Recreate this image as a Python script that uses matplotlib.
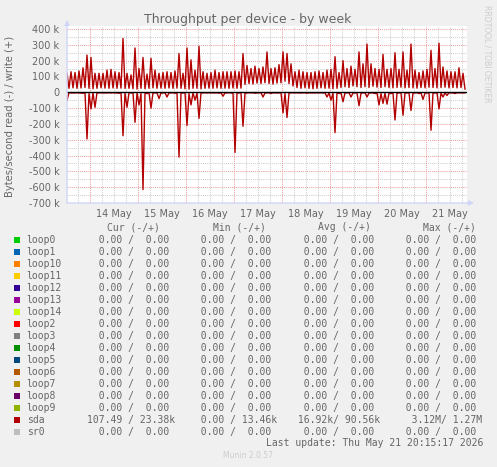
import matplotlib
matplotlib.use('Agg')
import matplotlib.pyplot as plt
import numpy as np
from matplotlib.patches import Rectangle

# ---------------- data ----------------
# write (+) peaks every 2 hours, in kB/s, starting at left edge (May 13 12:30)
write_peaks = [120, 130, 125, 135, 155, 235, 220, 120, 120, 120,
               140, 145, 130, 125, 340, 120, 110, 280, 150, 220,
               115, 215, 140, 120, 125, 130, 125, 135, 245, 120,
               280, 205, 140, 290, 130, 120, 125, 140, 125, 130,
               130, 130, 135, 130, 245, 170, 150, 165, 150, 160,
               255, 150, 155, 175, 255, 245, 180, 130, 140, 130,
               125, 125, 130, 135, 125, 140, 145, 225, 125, 200,
               150, 165, 145, 255, 180, 305, 180, 150, 145, 240,
               145, 150, 250, 145, 255, 140, 305, 140, 125, 135,
               145, 265, 150, 310, 160, 135, 130, 130, 155, 120]
write_troughs = [25, 28, 25, 27, 30, 25, 22, 25, 28, 26,
                 25, 27, 25, 26, 24, 25, 22, 20, 25, 22,
                 25, 28, 25, 26, 25, 27, 25, 26, 25, 22,
                 20, 25, 25, 22, 25, 26, 25, 27, 25, 26,
                 25, 27, 25, 26, 50, 55, 52, 58, 55, 60,
                 55, 52, 58, 60, 70, 55, 40, 30, 25, 28,
                 25, 22, 25, 28, 25, 26, 22, 25, 30, 35,
                 30, 40, 35, 30, 35, 30, 38, 32, 30, 35,
                 30, 28, 30, 32, 28, 30, 28, 26, 30, 28,
                 32, 30, 28, 30, 32, 28, 30, 28, 30, 20]
# read (-) at the same 2-hourly peak times, in kB/s
read_peaks = [-50, -4, -4, -4, -6, -295, -105, -95, -4, -4,
              -4, -4, -4, -6, -275, -95, -4, -190, -80, -615,
              -8, -100, -4, -40, -4, -30, -4, -6, -410, -4,
              -210, -80, -50, -165, -4, -4, -4, -4, -6, -25,
              -4, -4, -380, -4, -215, -4, -4, -6, -4, -30,
              -4, -8, -4, -4, -130, -160, -4, -4, -4, -4,
              -6, -4, -4, -4, -4, -30, -50, -255, -8, -60,
              -4, -30, -4, -85, -4, -30, -4, -8, -80, -70,
              -75, -8, -175, -4, -145, -4, -115, -4, -8, -45,
              -4, -240, -4, -105, -30, -20, -4, -8, -4, -4]
# read (-) in between, in kB/s
read_between = [-3, -4, -3, -5, -3, -8, -4, -3, -3, -4,
                -3, -3, -4, -3, -6, -3, -5, -4, -8, -5,
                -3, -4, -3, -5, -3, -4, -3, -3, -6, -3,
                -8, -4, -5, -4, -3, -3, -4, -3, -3, -4,
                -3, -5, -4, -3, -6, -3, -3, -4, -3, -4,
                -3, -3, -4, -3, -8, -5, -3, -3, -4, -3,
                -3, -4, -3, -3, -4, -5, -6, -4, -5, -4,
                -3, -5, -4, -6, -3, -5, -4, -6, -8, -6,
                -5, -4, -6, -3, -5, -4, -6, -3, -4, -5,
                -4, -6, -4, -5, -4, -3, -4, -3, -3, -3]

day_labels = ['14 May', '15 May', '16 May', '17 May', '18 May', '19 May', '20 May', '21 May']
yticks_k = [400, 300, 200, 100, 0, -100, -200, -300, -400, -500, -600, -700]

legend_names = ['loop0', 'loop1', 'loop10', 'loop11', 'loop12', 'loop13', 'loop14',
                'loop2', 'loop3', 'loop4', 'loop5', 'loop6', 'loop7', 'loop8',
                'loop9', 'sda', 'sr0']
legend_colors = ['#00CC00', '#0066B3', '#FF8000', '#FFCC00', '#330099', '#990099',
                 '#CCFF00', '#FF0000', '#808080', '#008F00', '#00487D', '#B35A00',
                 '#B38F00', '#6B006B', '#8FB300', '#B30000', '#BEBEBE']
zero_str = '  0.00 /  0.00'
legend_cur = {'sda': '107.49 / 23.38k'}
legend_min = {'sda': '  0.00 / 13.46k'}
legend_avg = {'sda': ' 16.92k/ 90.56k'}
legend_max = {'sda': '   3.12M/ 1.27M'}

# ---------------- figure ----------------
W, H = 497, 467
FONT = '#666666'
fig = plt.figure(figsize=(W / 100, H / 100), dpi=100, facecolor='#F0F0F0')

def fx(x):
    return x / W

def fy(y):
    return 1 - y / H

top_px, bot_px = 26, 203
ax = fig.add_axes([fx(67), fy(bot_px), 400 / W, (bot_px - top_px) / H])
ax.set_facecolor('white')
px_per_100k = (203 - 29) / 11.0
ymax = 400000 + (29 - top_px) / px_per_100k * 100000
ax.set_ylim(-700000, ymax)
ax.set_xlim(-11.5, 188.5)
for s in ax.spines.values():
    s.set_visible(False)

# grid
dots = (0, (1, 1))
for h in np.arange(-6, 189, 6):
    if h % 24 != 0:
        ax.axvline(h, color='#CFCFCF', lw=0.75, ls=dots, zorder=1)
for v in np.arange(-650000, 420000, 50000):
    if v % 100000 != 0:
        ax.axhline(v, color='#CFCFCF', lw=0.75, ls=dots, zorder=1)
for h in range(0, 189, 24):
    ax.axvline(h, color='#EFA0A0', lw=0.75, ls=dots, zorder=1.5)
for v in yticks_k:
    ax.axhline(v * 1000, color='#EFA0A0', lw=0.75, ls=dots, zorder=1.5)

# data
tw, vw, vr = [], [], []
for i in range(len(write_peaks)):
    tw += [-11.5 + 2 * i, -10.5 + 2 * i]
    vw += [write_peaks[i] * 1000, write_troughs[i] * 1000]
    vr += [read_peaks[i] * 1000, read_between[i] * 1000]
ax.plot(tw, vw, color='#B30000', lw=1.0, zorder=3)
ax.plot(tw, vr, color='#B30000', lw=1.0, zorder=3)
ax.axhline(0, color='black', lw=1.0, zorder=4)

# ticks
ax.set_yticks([v * 1000 for v in yticks_k])
ax.set_yticklabels([('%d k' % v) if v != 0 else '0' for v in yticks_k])
ax.set_xticks([12 + 24 * k for k in range(len(day_labels))])
ax.set_xticklabels(day_labels)
ax.tick_params(axis='both', length=0, labelsize=7, labelcolor=FONT)
ax.tick_params(axis='y', pad=5.5)
ax.tick_params(axis='x', pad=4.5)

# axes arrows
arr = dict(arrowstyle='-|>', color='#CFD6F8', lw=1, mutation_scale=7, shrinkA=0, shrinkB=0)
fig.add_artist(matplotlib.patches.FancyArrowPatch((fx(67), fy(203)), (fx(474), fy(203)),
               transform=fig.transFigure, **arr))
fig.add_artist(matplotlib.patches.FancyArrowPatch((fx(67), fy(203)), (fx(67), fy(20)),
               transform=fig.transFigure, **arr))

# titles
fig.text(fx(248), fy(20), 'Throughput per device - by week', ha='center', va='center',
         fontsize=9, color=FONT)
fig.text(fx(10), fy(116), 'Bytes/second read (-) / write (+)', ha='center', va='center',
         rotation=90, fontsize=7.2, color=FONT)
fig.text(fx(487), fy(5), 'RRDTOOL / TOBI OETIKER', ha='center', va='top',
         rotation=270, fontsize=5.5, color='#CCCCCC')

# legend
mono = 'DejaVu Sans Mono'
ms = 7.05
hy = 227.5
for x, s in [(106.7, 'Cur (-/+)'), (212.7, 'Min (-/+)'), (317.7, 'Avg (-/+)'), (422.7, 'Max (-/+)')]:
    fig.text(fx(x), fy(hy), s, ha='left', va='center', family=mono, fontsize=ms, color=FONT)
for k, (name, col) in enumerate(zip(legend_names, legend_colors)):
    y = 240 + 11.98 * k
    fig.add_artist(Rectangle((fx(14), fy(y + 3)), 6 / W, 6 / H, transform=fig.transFigure,
                             facecolor=col, edgecolor='none'))
    fig.text(fx(26.7), fy(y), name, ha='left', va='center', family=mono, fontsize=ms, color=FONT)
    for x, d in [(87.3, legend_cur), (189.2, legend_min), (292.5, legend_avg), (394.2, legend_max)]:
        fig.text(fx(x), fy(y), d.get(name, zero_str), ha='left', va='center', family=mono,
                 fontsize=ms, color=FONT)
fig.text(fx(483), fy(443.5), 'Last update: Thu May 21 20:15:17 2026', ha='right', va='center',
         family=mono, fontsize=ms, color=FONT)
fig.text(fx(248), fy(456), 'Munin 2.0.57', ha='center', va='center', fontsize=5.5, color='#CCCCCC')

fig.savefig('out.png', dpi=100, facecolor=fig.get_facecolor())
